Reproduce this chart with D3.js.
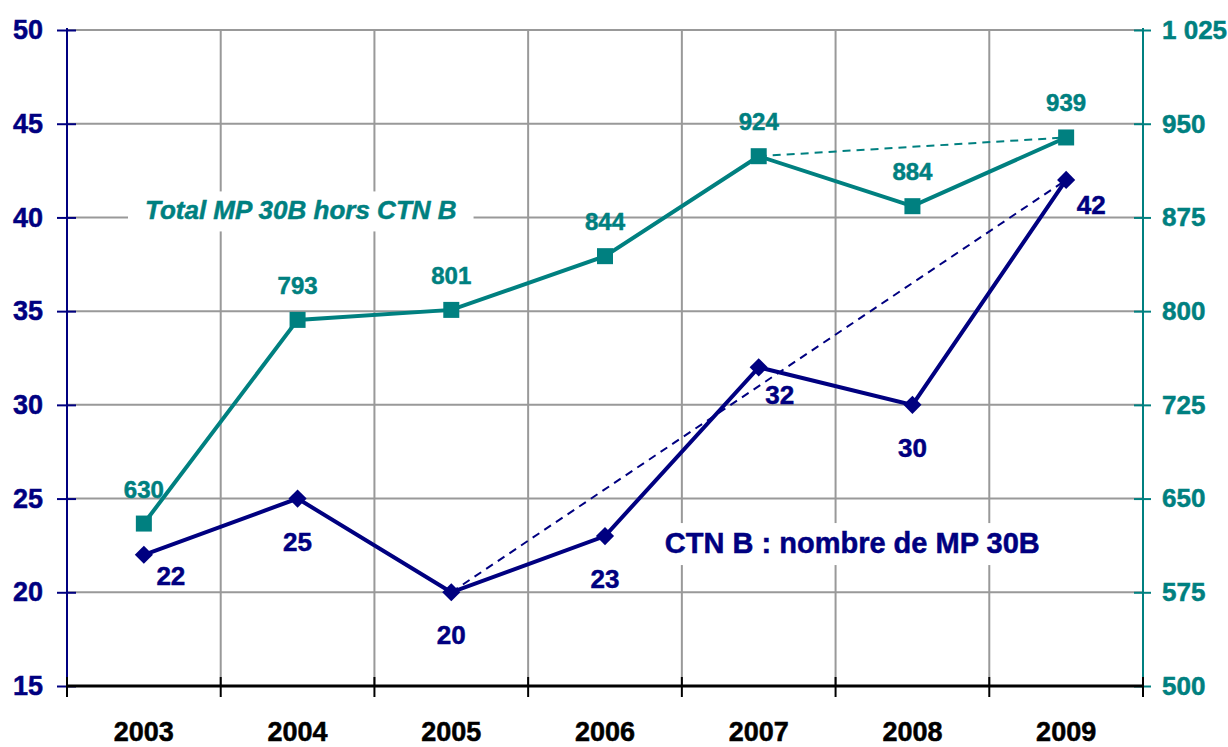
<!DOCTYPE html>
<html>
<head>
<meta charset="utf-8">
<script src="https://cdn.jsdelivr.net/npm/d3@7"></script>
<style>
  body { margin: 0; background: #fff; }
  text { font-family: "Liberation Sans", Arial, sans-serif; font-weight: bold; stroke-width: 0.5px; }
</style>
</head>
<body>
<div id="chart"></div>
<script>
// data
var years = ["2003", "2004", "2005", "2006", "2007", "2008", "2009"];
var ctnB = [22, 25, 20, 23, 32, 30, 42];
var totalHorsCtn = [630, 793, 801, 844, 924, 884, 939];
var leftTicks = [15, 20, 25, 30, 35, 40, 45, 50];
var rightTicks = [500, 575, 650, 725, 800, 875, 950, 1025];
// dashed trend segments (index pairs)
var ctnTrend = [2, 6];
var totalTrend = [4, 6];

drawChart();

function drawChart() {
  var navy = "#000080", teal = "#008080", grid = "#999999";

  var svg = d3.select("#chart")
              .append("svg")
              .attr("width", 1228)
              .attr("height", 747);
  var margin = {top: 30, right: 85, bottom: 61, left: 67},
      width = +svg.attr("width") - margin.left - margin.right,
      height = +svg.attr("height") - margin.top - margin.bottom;

  var x = d3.scaleBand().domain(years).range([0, width]).padding(0),
      yL = d3.scaleLinear().domain([15, 50]).range([height, 0]),
      yR = d3.scaleLinear().domain([500, 1025]).range([height, 0]);

  var g = svg.append("g")
      .attr("transform", "translate(" + margin.left + "," + margin.top + ")");

  // horizontal gridlines
  g.selectAll(".hgrid")
    .data(leftTicks.slice(1))
    .enter()
    .append("line")
    .attr("x1", 0).attr("x2", width)
    .attr("y1", function(d){return yL(d);})
    .attr("y2", function(d){return yL(d);})
    .attr("stroke", grid).attr("stroke-width", 2);

  // vertical gridlines at band edges
  g.selectAll(".vgrid")
    .data(years.slice(1))
    .enter()
    .append("line")
    .attr("x1", function(d){return x(d);})
    .attr("x2", function(d){return x(d);})
    .attr("y1", 0).attr("y2", height)
    .attr("stroke", grid).attr("stroke-width", 2);

  var fmt = function(d){ return d >= 1000 ? d3.format(",")(d).replace(",", " ") : d; };

  // left axis
  var axL = g.append("g")
    .call(d3.axisLeft(yL).tickValues(leftTicks).tickSize(9).tickPadding(15));
  axL.select(".domain").attr("stroke", navy).attr("stroke-width", 2).attr("d", "M0," + height + "V-2");
  axL.selectAll(".tick line").attr("stroke", navy).attr("stroke-width", 2).attr("x1", 9).attr("x2", -10);
  axL.selectAll(".tick text").attr("fill", navy).attr("stroke", navy).attr("font-size", "27px");

  // right axis
  var axR = g.append("g")
    .attr("transform", "translate(" + width + ",0)")
    .call(d3.axisRight(yR).tickValues(rightTicks).tickFormat(fmt).tickSize(8).tickPadding(11));
  axR.select(".domain").attr("stroke", teal).attr("stroke-width", 2).attr("d", "M0," + height + "V-2");
  axR.selectAll(".tick line").attr("stroke", teal).attr("stroke-width", 2).attr("x1", -9).attr("x2", 8);
  axR.selectAll(".tick text").attr("fill", teal).attr("stroke", teal).attr("font-size", "26px");

  // bottom axis
  var axB = g.append("g")
    .attr("transform", "translate(0," + height + ")")
    .call(d3.axisBottom(x).tickSize(0).tickPadding(36));
  axB.select(".domain").attr("stroke", "#000").attr("stroke-width", 3).attr("d", "M0,0H" + width);
  axB.selectAll(".tick text").attr("fill", "#000").attr("stroke", "#000").attr("font-size", "27px");
  axB.selectAll(".edgetick")
    .data(years.concat(["end"]))
    .enter()
    .append("line")
    .attr("x1", function(d){return d === "end" ? width : x(d);})
    .attr("x2", function(d){return d === "end" ? width : x(d);})
    .attr("y1", -9).attr("y2", 11)
    .attr("stroke", "#000").attr("stroke-width", 2);

  var cx = function(i){ return x(years[i]) + x.bandwidth() / 2; };

  // dashed trend lines
  g.append("line")
    .attr("x1", cx(totalTrend[0])).attr("y1", yR(totalHorsCtn[totalTrend[0]]))
    .attr("x2", cx(totalTrend[1])).attr("y2", yR(totalHorsCtn[totalTrend[1]]))
    .attr("stroke", teal).attr("stroke-width", 2).attr("stroke-dasharray", "8,6");
  g.append("line")
    .attr("x1", cx(ctnTrend[0])).attr("y1", yL(ctnB[ctnTrend[0]]))
    .attr("x2", cx(ctnTrend[1])).attr("y2", yL(ctnB[ctnTrend[1]]))
    .attr("stroke", navy).attr("stroke-width", 2).attr("stroke-dasharray", "8,6");

  // series lines
  var lineT = d3.line().x(function(d,i){return cx(i);}).y(function(d){return yR(d);});
  var lineC = d3.line().x(function(d,i){return cx(i);}).y(function(d){return yL(d);});

  g.append("path").datum(totalHorsCtn).attr("d", lineT)
    .attr("fill", "none").attr("stroke", teal).attr("stroke-width", 4);
  g.append("path").datum(ctnB).attr("d", lineC)
    .attr("fill", "none").attr("stroke", navy).attr("stroke-width", 4);

  // markers
  g.selectAll(".sq")
    .data(totalHorsCtn)
    .enter()
    .append("rect")
    .attr("x", function(d,i){return cx(i) - 8;})
    .attr("y", function(d){return yR(d) - 8;})
    .attr("width", 16).attr("height", 16)
    .attr("fill", teal);

  g.selectAll(".dia")
    .data(ctnB)
    .enter()
    .append("path")
    .attr("d", d3.symbol().type(d3.symbolDiamond2).size(210))
    .attr("transform", function(d,i){return "translate(" + cx(i) + "," + yL(d) + ")";})
    .attr("fill", navy);

  // value labels
  g.selectAll(".tlab")
    .data(totalHorsCtn)
    .enter()
    .append("text")
    .attr("x", function(d,i){return cx(i);})
    .attr("y", function(d){return yR(d) - 26;})
    .attr("text-anchor", "middle")
    .attr("font-size", "24px")
    .attr("fill", teal).attr("stroke", teal)
    .text(function(d){return d;});

  var cOff = [[27, 30], [0, 52], [0, 52], [0, 52], [21, 37], [0, 52], [25, 34]];
  g.selectAll(".clab")
    .data(ctnB)
    .enter()
    .append("text")
    .attr("x", function(d,i){return cx(i) + cOff[i][0];})
    .attr("y", function(d,i){return yL(d) + cOff[i][1];})
    .attr("text-anchor", "middle")
    .attr("font-size", "26px")
    .attr("fill", navy).attr("stroke", navy)
    .text(function(d){return d;});

  // series titles with white background
  function boxedLabel(txt, px, py, size, color, italic) {
    var t = g.append("text")
      .attr("x", px).attr("y", py)
      .attr("font-size", size + "px")
      .attr("font-style", italic ? "italic" : "normal")
      .attr("fill", color).attr("stroke", color)
      .text(txt);
    var b = t.node().getBBox();
    g.insert("rect", function(){ return t.node(); })
      .attr("x", b.x - 17).attr("y", b.y - 4).attr("width", b.width + 34).attr("height", b.height + 10)
      .attr("fill", "#fff");
  }
  boxedLabel("Total MP 30B hors CTN B", x("2003") + 78, yL(40) + 2, 26, teal, true);
  boxedLabel("CTN B : nombre de MP 30B", x("2007") - 17, yL(23) + 17, 29, navy, false);
}
</script>
</body>
</html>
